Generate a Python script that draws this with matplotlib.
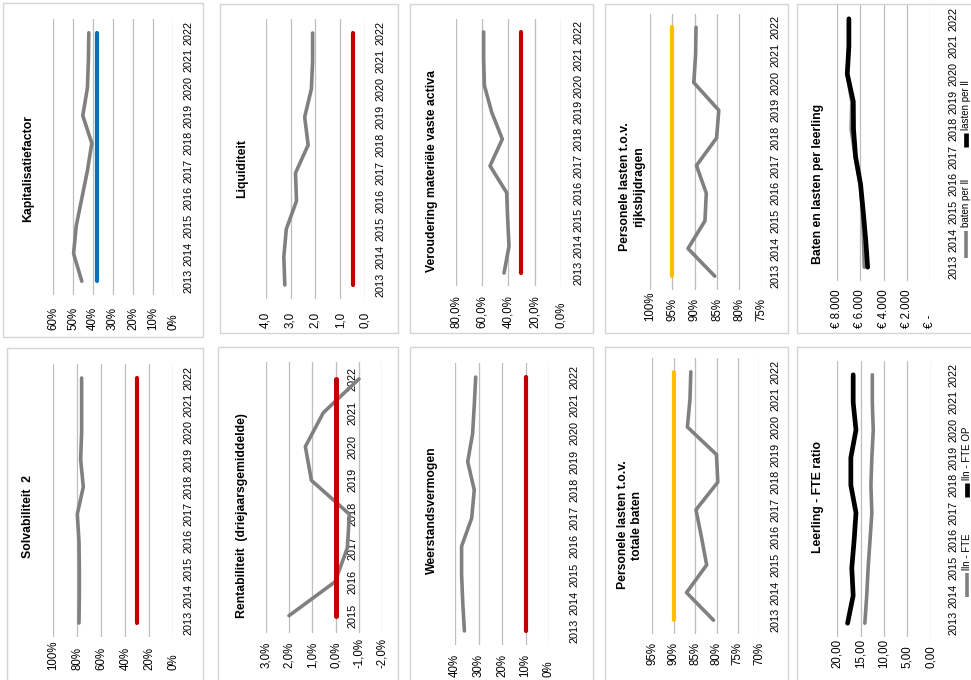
import matplotlib
matplotlib.use("Agg")
import matplotlib.pyplot as plt
from matplotlib.lines import Line2D
from matplotlib.patches import Rectangle

# ---------------- data ----------------
years = ["2013", "2014", "2015", "2016", "2017", "2018", "2019", "2020", "2021", "2022"]
years_rent = ["2015", "2016", "2017", "2018", "2019", "2020", "2021", "2022"]

kapitalisatie = [45.6, 49.7, 48.4, 45.6, 42.8, 40.6, 45.1, 42.8, 42.3, 42.1]
kapitalisatie_norm = [38, 38, 38, 38, 38, 38, 38, 38, 38, 38]
liquiditeit = [3.23, 3.27, 3.17, 2.76, 2.80, 2.29, 2.43, 2.16, 2.11, 2.11]
liquiditeit_norm = [0.5, 0.5, 0.5, 0.5, 0.5, 0.5, 0.5, 0.5, 0.5, 0.5]
veroudering = [43.3, 39.5, 40.5, 41.3, 54.0, 44.6, 52.7, 58.3, 58.9, 58.9]
veroudering_norm = [30, 30, 30, 30, 30, 30, 30, 30, 30, 30]
pers_rijks = [85.5, 91.5, 87.7, 87.4, 89.6, 85.1, 84.6, 90.2, 89.8, 89.7]
pers_rijks_norm = [95, 95, 95, 95, 95, 95, 95, 95, 95, 95]
baten_ll = [5670, 5740, 5830, 6020, 6460, 6800, 6750, 7150, 7010, 7000]
lasten_ll = [5380, 5550, 5760, 5990, 6420, 6600, 6620, 7140, 7000, 7000]
solvabiliteit = [78.6, 78.3, 78.3, 78.6, 80.0, 75.0, 77.2, 76.4, 76.4, 76.4]
solvabiliteit_norm = [30, 30, 30, 30, 30, 30, 30, 30, 30, 30]
rentabiliteit = [2.0, 0.03, -0.5, -0.59, 1.04, 1.3, 0.53, -1.0]
rentabiliteit_norm = [0, 0, 0, 0, 0, 0, 0, 0]
weerstand = [36.0, 36.7, 37.2, 37.2, 32.9, 31.8, 34.6, 32.5, 31.8, 31.2]
weerstand_norm = [10, 10, 10, 10, 10, 10, 10, 10, 10, 10]
pers_baten = [80.7, 87.0, 82.3, 83.5, 84.8, 79.7, 80.0, 86.8, 86.2, 86.0]
pers_baten_norm = [90, 90, 90, 90, 90, 90, 90, 90, 90, 90]
lln_fte = [14.1, 13.7, 13.4, 13.0, 12.6, 12.8, 12.6, 12.3, 12.5, 12.5]
lln_fte_op = [17.8, 16.6, 16.9, 16.4, 16.0, 17.1, 17.1, 16.0, 16.6, 16.6]

kap_ticks = [0, 10, 20, 30, 40, 50, 60]
kap_labels = ["0%", "10%", "20%", "30%", "40%", "50%", "60%"]
liq_ticks = [0, 1, 2, 3, 4]
liq_labels = ["0,0", "1,0", "2,0", "3,0", "4,0"]
ver_ticks = [0, 20, 40, 60, 80]
ver_labels = ["0,0%", "20,0%", "40,0%", "60,0%", "80,0%"]
pr_ticks = [75, 80, 85, 90, 95, 100]
pr_labels = ["75%", "80%", "85%", "90%", "95%", "100%"]
bl_ticks = [0, 2000, 4000, 6000, 8000]
bl_labels = ["€ -", "€ 2.000", "€ 4.000", "€ 6.000", "€ 8.000"]
solv_ticks = [0, 20, 40, 60, 80, 100]
solv_labels = ["0%", "20%", "40%", "60%", "80%", "100%"]
rent_ticks = [-2, -1, 0, 1, 2, 3]
rent_labels = ["-2,0%", "-1,0%", "0,0%", "1,0%", "2,0%", "3,0%"]
wv_ticks = [0, 10, 20, 30, 40]
wv_labels = ["0%", "10%", "20%", "30%", "40%"]
pb_ticks = [70, 75, 80, 85, 90, 95]
pb_labels = ["70%", "75%", "80%", "85%", "90%", "95%"]
lf_ticks = [0, 5, 10, 15, 20]
lf_labels = ["0,00", "5,00", "10,00", "15,00", "20,00"]

# ---------------- style ----------------
W, H = 971, 680
GRAY = "#808080"
RED = "#C00000"
BLUE = "#0070C0"
YELLOW = "#FFC000"
BLACK = "#000000"
GRID = "#BEBEBE"
BORDER = "#D4D4D4"
FONT = ["Liberation Sans Narrow", "Liberation Sans", "DejaVu Sans"]
TITLE_FONT = ["Liberation Sans", "DejaVu Sans"]
plt.rcParams["font.family"] = FONT

fig = plt.figure(figsize=(W / 100, H / 100), dpi=100)
fig.patch.set_facecolor("white")


def fx(x):
    return x / W


def fy(y):
    return 1 - y / H


def border(x0, x1, y0, y1):
    fig.add_artist(Rectangle((fx(x0), fy(y1)), fx(x1) - fx(x0), fy(y0) - fy(y1),
                             transform=fig.transFigure, fill=False,
                             edgecolor=BORDER, lw=1.0))


def panel(area, vlim, ticks, labels, cats, year_x, val_y, title, title_xy,
          title_size=8.8, spine_zero=False):
    x0, x1, y0, y1 = area
    ax = fig.add_axes([fx(x0), fy(y1), fx(x1) - fx(x0), fy(y0) - fy(y1)])
    ax.patch.set_alpha(0)
    ax.set_xlim(vlim)
    ax.set_ylim(-0.5, len(cats) - 0.5)
    ax.yaxis.tick_right()
    if spine_zero:
        ax.spines["right"].set_position(("data", 0))
        ref_px = x0 + (x1 - x0) * (vlim[0] - 0) / (vlim[0] - vlim[1])
    else:
        ref_px = x1
    for s in ax.spines.values():
        s.set_visible(False)
    ax.set_xticks(ticks, labels=labels, rotation=90, ha="center", va="bottom",
                  fontsize=8.3)
    ax.set_yticks(range(len(cats)), labels=cats, rotation=90, ha="center",
                  va="center", fontsize=7.8)
    ax.tick_params(axis="y", length=0, pad=(year_x - ref_px) * 0.72)
    ax.tick_params(axis="x", length=0, pad=(val_y - y1) * 0.72)
    ax.grid(axis="x", color=GRID, lw=0.9)
    ax.grid(axis="y", visible=False)
    ax.set_axisbelow(True)
    fig.text(fx(title_xy[0]), fy(title_xy[1]), title, rotation=90, ha="center",
             va="center", fontweight="bold", fontsize=title_size,
             family=TITLE_FONT, multialignment="center", linespacing=1.3)
    return ax


def series(ax, values, color, lw):
    ax.plot(values, range(len(values)), color=color, lw=lw,
            solid_capstyle="round", solid_joinstyle="round")


def legend_item(x, y_handle0, y_handle1, y_text, label, color, lw):
    fig.add_artist(Line2D([fx(x), fx(x)], [fy(y_handle0), fy(y_handle1)],
                          transform=fig.transFigure, color=color, lw=lw,
                          solid_capstyle="butt"))
    fig.text(fx(x), fy(y_text), label, rotation=90, ha="center", va="bottom",
             fontsize=7)


# ---------------- borders ----------------
for b in [(3, 203, 3, 337), (220, 398, 4, 333), (410, 593, 4, 333),
          (605, 788, 4, 333), (797, 975, 4, 333),
          (7, 203, 348, 690), (218, 398, 347, 690), (410, 593, 347, 690),
          (605, 788, 347, 690), (797, 975, 347, 690)]:
    border(*b)

LW = 2.6
NW = 3.0

# 1 Kapitalisatiefactor
ax = panel((53, 173, 19, 295), (60, 0), kap_ticks, kap_labels, years, 188, 330,
           "Kapitalisatiefactor", (28, 168))
series(ax, kapitalisatie, GRAY, LW)
series(ax, kapitalisatie_norm, BLUE, NW)

# 2 Liquiditeit
ax = panel((265.7, 365, 19, 299), (4, 0), liq_ticks, liq_labels, years, 380, 328,
           "Liquiditeit", (242, 168))
series(ax, liquiditeit, GRAY, LW)
series(ax, liquiditeit_norm, RED, NW)

# 3 Veroudering
ax = panel((456, 560.7, 18.6, 286.4), (80, 0), ver_ticks, ver_labels, years, 578, 328,
           "Veroudering materiële vaste activa", (432, 171))
series(ax, veroudering, GRAY, LW)
series(ax, veroudering_norm, RED, NW)

# 4 Personele lasten t.o.v. rijksbijdragen
ax = panel((650, 761.7, 13.5, 290), (100, 75), pr_ticks, pr_labels, years, 775, 321,
           "Personele lasten t.o.v.\nrijksbijdragen", (632, 187))
series(ax, pers_rijks, GRAY, LW)
series(ax, pers_rijks_norm, YELLOW, NW)

# 5 Baten en lasten per leerling
ax = panel((837.3, 930, 5, 281), (8000, 0), bl_ticks, bl_labels, years, 953, 328,
           "Baten en lasten per leerling", (818, 184))
series(ax, baten_ll, GRAY, LW)
series(ax, lasten_ll, BLACK, 3.4)
legend_item(966, 258, 231, 227, "baten per ll", GRAY, 2.6)
legend_item(966, 147, 133, 130, "lasten per ll", BLACK, 3.4)

# 6 Solvabiliteit 2
ax = panel((53.3, 173.3, 364.4, 636.6), (100, 0), solv_ticks, solv_labels, years, 188,
           670, "Solvabiliteit  2", (28, 516))
series(ax, solvabiliteit, GRAY, LW)
series(ax, solvabiliteit_norm, RED, NW)

# 7 Rentabiliteit
ax = panel((265.7, 382.3, 362, 632.6), (3, -2), rent_ticks, rent_labels, years_rent,
           352, 668, "Rentabiliteit  (driejaarsgemiddelde)", (242, 516),
           spine_zero=True)
series(ax, rentabiliteit, GRAY, LW)
series(ax, rentabiliteit_norm, RED, 3.6)

# 8 Weerstandsvermogen
ax = panel((455, 549, 363, 645), (40, 0), wv_ticks, wv_labels, years, 575, 677,
           "Weerstandsvermogen", (432, 510))
series(ax, weerstand, GRAY, LW)
series(ax, weerstand_norm, RED, NW)

# 9 Personele lasten t.o.v. totale baten
ax = panel((652.3, 759.3, 358, 634), (95, 70), pb_ticks, pb_labels, years, 775, 665,
           "Personele lasten t.o.v.\ntotale baten", (630, 525))
series(ax, pers_baten, GRAY, LW)
series(ax, pers_baten_norm, YELLOW, NW)

# 10 Leerling - FTE ratio
ax = panel((837.3, 930.7, 361, 637), (20, 0), lf_ticks, lf_labels, years, 953, 668,
           "Leerling - FTE ratio", (818, 497))
series(ax, lln_fte, GRAY, LW)
series(ax, lln_fte_op, BLACK, 3.4)
legend_item(967, 597, 573, 570, "lln - FTE", GRAY, 2.6)
legend_item(967, 497, 483, 480, "lln - FTE OP", BLACK, 3.4)

fig.savefig("out.png", dpi=100, facecolor="white")
